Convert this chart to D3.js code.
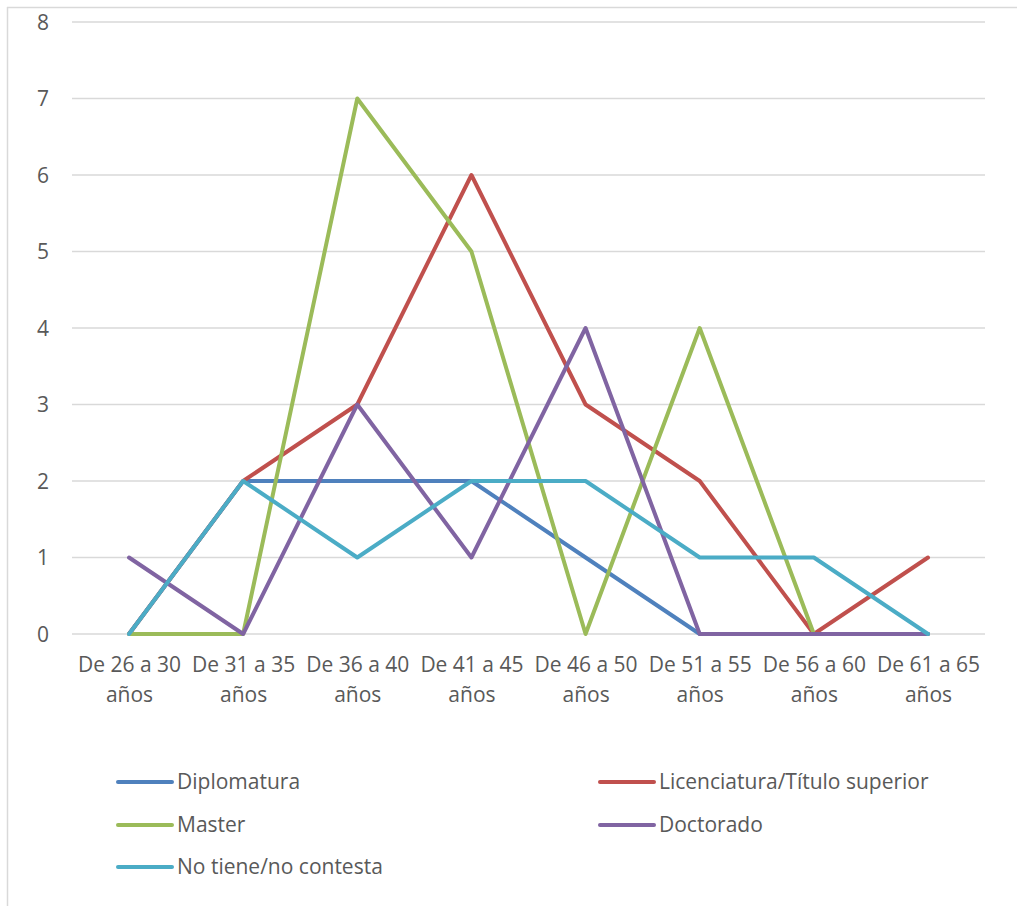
<!DOCTYPE html>
<html><head><meta charset="utf-8">
<script src="https://cdn.jsdelivr.net/npm/d3@7"></script>
<style>body{margin:0;background:#fff}svg{display:block}text{font-family:"Open Sans","Noto Sans",sans-serif;fill:#595959}</style>
</head><body><svg id="c" width="1017" height="906"></svg>
<script>
const categories = ["De 26 a 30 años","De 31 a 35 años","De 36 a 40 años","De 41 a 45 años","De 46 a 50 años","De 51 a 55 años","De 56 a 60 años","De 61 a 65 años"];
const seriesNames = ["Diplomatura","Licenciatura/Título superior","Master","Doctorado","No tiene/no contesta"];
const diplomatura = [0,2,2,2,1,0,0,0];
const licenciatura = [0,2,3,6,3,2,0,1];
const master = [0,0,7,5,0,4,0,0];
const doctorado = [1,0,3,1,4,0,0,0];
const noTiene = [0,2,1,2,2,1,1,0];
const yTicks = [0,1,2,3,4,5,6,7,8];
const colors = ["#4F81BD","#C0504D","#9BBB59","#8064A2","#4BACC6"];
const allValues = [diplomatura, licenciatura, master, doctorado, noTiene];

(function(){
const svg = d3.select("#c");
svg.append("line").attr("x1",7.5).attr("x2",7.5).attr("y1",7).attr("y2",906).attr("stroke","#D9D9D9").attr("stroke-width",1.5);
svg.append("line").attr("x1",7).attr("x2",1017).attr("y1",7.5).attr("y2",7.5).attr("stroke","#D9D9D9").attr("stroke-width",1.5);

const pL=72, pR=985, pT=22, pB=634;
const x = d3.scalePoint().domain(categories).range([pL+57, pR-57]);
const y = d3.scaleLinear().domain([0,8]).range([pB, pT]);

const g = svg.append("g");
g.selectAll("line.grid").data(yTicks).enter().append("line")
  .attr("x1",pL).attr("x2",pR).attr("y1",d=>y(d)).attr("y2",d=>y(d))
  .attr("stroke","#D9D9D9").attr("stroke-width",1.3);

const fs = "21px";
const yAxis = d3.axisLeft(y).tickValues(yTicks).tickSize(0).tickPadding(0);
const ya = svg.append("g").attr("transform",`translate(49,0)`).call(yAxis);
ya.select(".domain").remove();
ya.selectAll("text").style("font-size",fs).attr("fill","#595959").attr("dy","0.35em");

const xAxis = d3.axisBottom(x).tickSize(0);
const xa = svg.append("g").attr("transform",`translate(0,${pB})`).call(xAxis);
xa.select(".domain").remove();
xa.selectAll("text").each(function(d){
  const t=d3.select(this); t.text(null).attr("y",null).attr("dy",null).style("font-size",fs);
  const parts = d.split(" años");
  t.append("tspan").attr("x",0).attr("y",38).text(parts[0]);
  t.append("tspan").attr("x",0).attr("y",68).text("años");
});

const line = d3.line().x((d,i)=>x(categories[i])).y(d=>y(d));
allValues.forEach((vals,k)=>{
  svg.append("path").datum(vals).attr("d",line).attr("fill","none")
    .attr("stroke",colors[k]).attr("stroke-width",4).attr("stroke-linejoin","round").attr("stroke-linecap","round");
});

const legendPos = [[118,782],[600,782],[118,825],[600,825],[118,867]];
seriesNames.forEach((n,k)=>{
  const [lx,ly]=legendPos[k];
  svg.append("line").attr("x1",lx).attr("x2",lx+54).attr("y1",ly).attr("y2",ly)
    .attr("stroke",colors[k]).attr("stroke-width",4).attr("stroke-linecap","round");
  svg.append("text").attr("x",lx+59).attr("y",ly).attr("dy","0.35em").style("font-size",fs).text(n);
});
})();
</script></body></html>
